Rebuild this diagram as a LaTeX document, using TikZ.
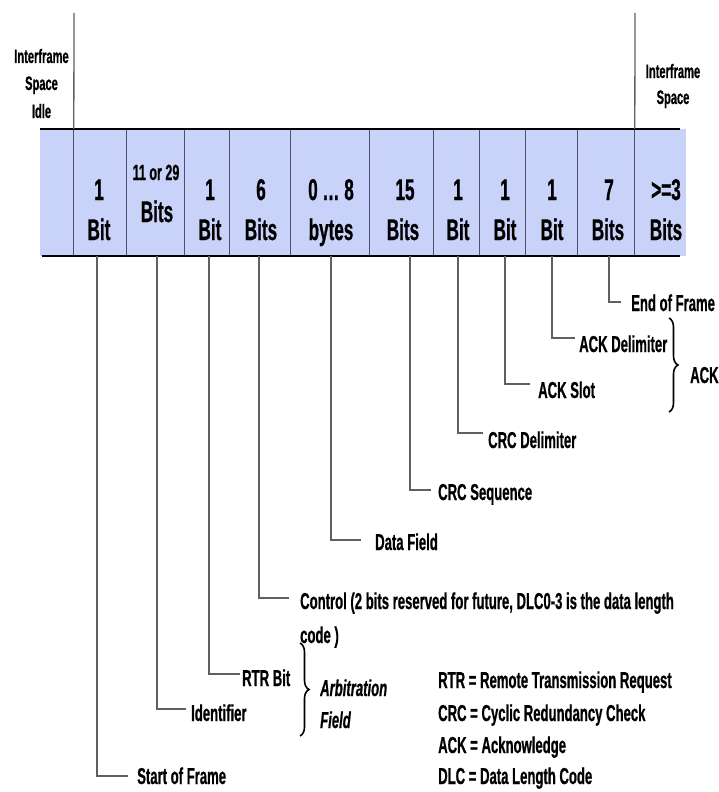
\documentclass[tikz,border=0pt]{standalone}
\usepackage{fontspec}
\setmainfont{Liberation Sans}[FakeStretch=0.57, BoldFeatures={FakeBold=0.7}, BoldItalicFeatures={FakeBold=0.7}]
\usetikzlibrary{decorations.pathreplacing}
\definecolor{bandfill}{RGB}{201,211,250}
\definecolor{divcol}{RGB}{80,80,110}
\definecolor{leadcol}{RGB}{95,95,95}
\begin{document}
\begin{tikzpicture}[x=1pt,y=-1pt,
  every node/.style={inner sep=0pt},
  big/.style={font=\bfseries\fontsize{30}{30}\selectfont, anchor=base},
  small/.style={font=\bfseries\fontsize{22}{22}\selectfont, anchor=base},
  ifs/.style={font=\bfseries\fontsize{19.5}{19.5}\selectfont, anchor=base},
  lbl/.style={font=\bfseries\fontsize{23}{23}\selectfont, anchor=base west},
  ilbl/.style={font=\bfseries\itshape\fontsize{23}{23}\selectfont, anchor=base west},
  cellbox/.style={minimum height=127pt, anchor=center},
  div/.style={draw=divcol, line width=1pt},
  tall/.style={draw=leadcol, line width=1.3pt},
  lead/.style={draw=leadcol, line width=1.5pt},
  rulestyle/.style={draw=black, line width=2pt},
  bracestyle/.style={draw=black, line width=1.6pt, decorate, decoration={brace, amplitude=9pt}}
]
\useasboundingbox (0,0) rectangle (718,792);
% band
\fill[bandfill] (40,129) rectangle (686,256);
\node[cellbox, minimum width=34pt] (c0) at (57,192.5) {};
\node[cellbox, minimum width=53pt] (c1) at (100.5,192.5) {};
\node[cellbox, minimum width=58pt] (c2) at (156,192.5) {};
\node[cellbox, minimum width=45pt] (c3) at (207.5,192.5) {};
\node[cellbox, minimum width=61pt] (c4) at (260.5,192.5) {};
\node[cellbox, minimum width=79pt] (c5) at (330.5,192.5) {};
\node[cellbox, minimum width=64pt] (c6) at (402,192.5) {};
\node[cellbox, minimum width=46pt] (c7) at (457,192.5) {};
\node[cellbox, minimum width=46pt] (c8) at (503,192.5) {};
\node[cellbox, minimum width=52pt] (c9) at (552,192.5) {};
\node[cellbox, minimum width=57pt] (c10) at (606.5,192.5) {};
\node[cellbox, minimum width=51pt] (c11) at (660.5,192.5) {};
\foreach \c in {c1,c2,c3,c4,c5,c6,c7,c8,c9,c10,c11}
  \draw[div] (\c.north west) -- (\c.south west);
\draw[rulestyle] (c0.north west) -- ([xshift=-6pt]c11.north east);
\draw[rulestyle] ([xshift=2pt]c0.south west) -- ([xshift=-6pt]c11.south east);
\coordinate (tl) at (74,13);
\coordinate (tr) at (635,13);
\draw[tall] (tl) -- (c1.north west);
\draw[tall] (tr) -- (c11.north west);
% interframe texts
\node[ifs] (ifl1) at (41.5,63) {Interframe};
\node[ifs] (ifl2) at (41.5,90) {Space};
\node[ifs] (ifl3) at (41.5,118) {Idle};
\node[ifs] (ifr1) at (673,78) {Interframe};
\node[ifs] (ifr2) at (673,104) {Space};
% cell texts
\node[big] (t1a) at (99,200) {1};   \node[big] (t1b) at (99,240) {Bit};
\node[small] (t2a) at (156,180) {11 or 29}; \node[big] (t2b) at (157,222) {Bits};
\node[big] (t3a) at (210,200) {1};  \node[big] (t3b) at (210,240) {Bit};
\node[big] (t4a) at (261,200) {6};  \node[big] (t4b) at (261,240) {Bits};
\node[big] (t5a) at (331,200) {0 … 8}; \node[big] (t5b) at (331,240) {bytes};
\node[big] (t6a) at (405,200) {15}; \node[big] (t6b) at (403,240) {Bits};
\node[big] (t7a) at (458,200) {1};  \node[big] (t7b) at (458,240) {Bit};
\node[big] (t8a) at (505,200) {1};  \node[big] (t8b) at (505,240) {Bit};
\node[big] (t9a) at (552,200) {1};  \node[big] (t9b) at (552,240) {Bit};
\node[big] (t10a) at (609,200) {7}; \node[big] (t10b) at (608,240) {Bits};
\node[big] (t11a) at (666,200) {>=3}; \node[big] (t11b) at (666,240) {Bits};
% labels
\node[lbl] (sof) at (137,784) {Start of Frame};
\node[lbl] (ident) at (191,721) {Identifier};
\node[lbl] (rtr) at (242,686) {RTR Bit};
\node[lbl] (ctrl) at (300,609) {Control (2 bits reserved for future, DLC0-3 is the data length};
\node[lbl] (ctrl2) at (300,643) {code )};
\node[lbl] (data) at (375,550) {Data Field};
\node[lbl] (crcs) at (438,500) {CRC Sequence};
\node[lbl] (crcd) at (488,448) {CRC Delimiter};
\node[lbl] (acks) at (538,398) {ACK Slot};
\node[lbl] (ackd) at (579,352) {ACK Delimiter};
\node[lbl] (eof) at (631,311) {End of Frame};
% leader ends
\coordinate (sofE) at (128,776);
\coordinate (identE) at (186,709);
\coordinate (rtrE) at (240,674);
\coordinate (ctrlE) at (289,598);
\coordinate (dataE) at (361,540);
\coordinate (crcsE) at (431,490);
\coordinate (crcdE) at (483,433);
\coordinate (acksE) at (530,384);
\coordinate (ackdE) at (575,338);
\coordinate (eofE) at (621,302);
\draw[lead] ([xshift=-3.5pt]c1.south) |- (sofE);
\draw[lead] ([xshift=1pt]c2.south) |- (identE);
\draw[lead] ([xshift=1.5pt]c3.south) |- (rtrE);
\draw[lead] ([xshift=-1.5pt]c4.south) |- (ctrlE);
\draw[lead] ([xshift=0.5pt]c5.south) |- (dataE);
\draw[lead] ([xshift=8pt]c6.south) |- (crcsE);
\draw[lead] ([xshift=1pt]c7.south) |- (crcdE);
\draw[lead] ([xshift=2pt]c8.south) |- (acksE);
\draw[lead] (c9.south) |- (ackdE);
\draw[lead] ([xshift=2.5pt]c10.south) |- (eofE);
% braces
\coordinate (ackbt) at (669,318);
\coordinate (ackbb) at (669,412);
\draw[bracestyle] (ackbt) -- (ackbb);
\node[lbl] (ack) at (690,383) {ACK};
\coordinate (arbt) at (300,643);
\coordinate (arbb) at (300,736);
\draw[bracestyle] (arbt) -- (arbb);
\node[ilbl] (arb) at (320,696) {Arbitration};
\node[ilbl] (field) at (320,728) {Field};
% legend
\node[lbl] (l1) at (438,688) {RTR = Remote Transmission Request};
\node[lbl] (l2) at (438,721) {CRC = Cyclic Redundancy Check};
\node[lbl] (l3) at (438,753) {ACK = Acknowledge};
\node[lbl] (l4) at (438,784) {DLC = Data Length Code};
\end{tikzpicture}
\end{document}
